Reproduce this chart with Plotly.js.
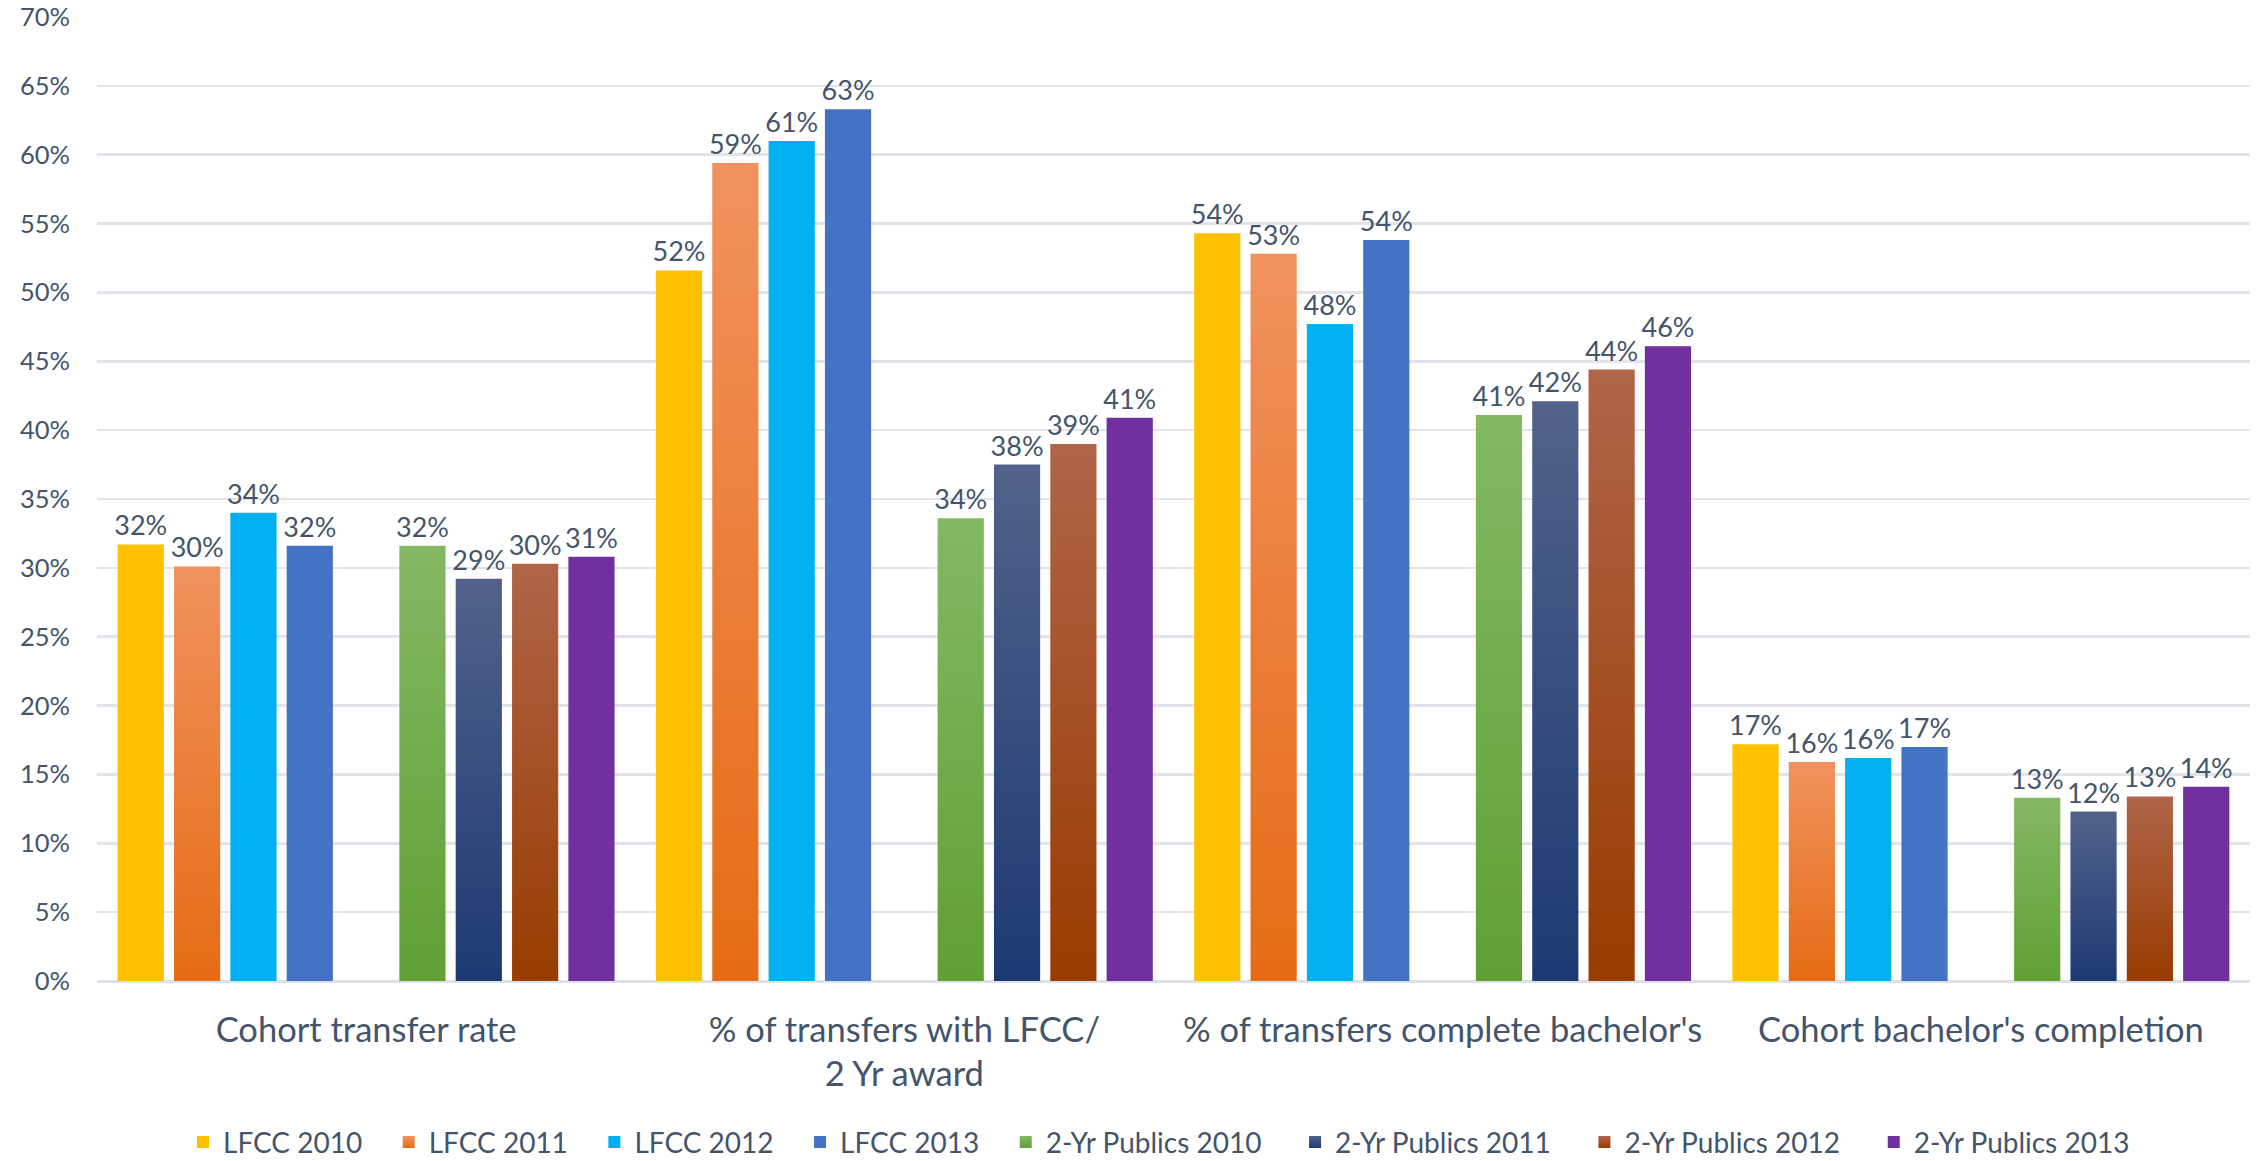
<!DOCTYPE html>
<html>
<head>
<meta charset="utf-8">
<script src="https://cdn.plot.ly/plotly-3.0.1.min.js"></script>
<style>
html,body{margin:0;padding:0;background:#fff;}
#chart{width:2259px;height:1161px;}
</style>
</head>
<body>
<div id="chart"></div>
<script>
var categories = [
  "Cohort transfer rate",
  "% of transfers with LFCC/<br>2 Yr award",
  "% of transfers complete bachelor's",
  "Cohort bachelor's completion"
];
var seriesNames = ["LFCC 2010","LFCC 2011","LFCC 2012","LFCC 2013",
  "2-Yr Publics 2010","2-Yr Publics 2011","2-Yr Publics 2012","2-Yr Publics 2013"];
var lfcc2010 = [31.7, 51.6, 54.3, 17.2];
var lfcc2011 = [30.1, 59.4, 52.8, 15.9];
var lfcc2012 = [34.0, 61.0, 47.7, 16.2];
var lfcc2013 = [31.6, 63.3, 53.8, 17.0];
var pub2010  = [31.6, 33.6, 41.1, 13.3];
var pub2011  = [29.2, 37.5, 42.1, 12.3];
var pub2012  = [30.3, 39.0, 44.4, 13.4];
var pub2013  = [30.8, 40.9, 46.1, 14.1];
var yTicks = [0,5,10,15,20,25,30,35,40,45,50,55,60,65,70];

var colors = ["#FFC000","#EF7E33","#00B0F0","#4472C4","#74AE4A","#2E4477","#A24E1C","#7030A0"];
// vertical gradients (top, bottom) used by Excel-style shaded series
var gradients = {
  "LFCC 2011": ["#F1925E", "#E56C14"],
  "2-Yr Publics 2010": ["#84B864", "#60A033"],
  "2-Yr Publics 2011": ["#52628A", "#1C3A72"],
  "2-Yr Publics 2012": ["#AF6549", "#983C00"]
};
var values = [lfcc2010,lfcc2011,lfcc2012,lfcc2013,pub2010,pub2011,pub2012,pub2013];
var textColor = "#44546A";
var font = "Lato, 'Open Sans', sans-serif";
var padShort = "\u00A0\u00A0\u00A0";
var padLong = "\u00A0\u00A0\u00A0\u00A0";

var traces = [];
function barTrace(i){
  return {
    type:'bar', name: seriesNames[i] + (i < 4 ? padShort : padLong), x: categories, y: values[i],
    meta: seriesNames[i],
    marker:{color: colors[i]},
    text: values[i].map(function(v){return Math.round(v)+'%';}),
    textposition:'outside', constraintext:'none', cliponaxis:false,
    textfont:{family:font, size:27, color:textColor},
    hoverinfo:'name+y'
  };
}
for (var i=0;i<4;i++) traces.push(barTrace(i));
// empty spacer series between the two groups
traces.push({type:'bar', name:'', x:categories, y:categories.map(function(){return null;}),
  showlegend:false, hoverinfo:'skip', marker:{color:'rgba(0,0,0,0)'}});
for (var j=4;j<8;j++) traces.push(barTrace(j));

var layout = {
  width:2259, height:1161,
  paper_bgcolor:'#fff', plot_bgcolor:'#fff',
  margin:{l:97, r:9, t:17, b:180},
  barmode:'group', bargap:0.058, bargroupgap:0.18,
  font:{family:font, color:textColor},
  xaxis:{
    type:'category', showgrid:false, zeroline:false,
    showline:false, ticks:'', ticklabelstandoff:25,
    tickfont:{family:font, size:34.5, color:textColor}
  },
  yaxis:{
    range:[0,70], tickvals:yTicks, ticktext:yTicks.map(function(t){return t+'%';}),
    showgrid:true, gridcolor:'#E1E4EA', gridwidth:2.5,
    zeroline:true, zerolinecolor:'#DDE1E8', zerolinewidth:3,
    showline:false, ticks:'', ticklabelstandoff:26,
    tickfont:{family:font, size:25.5, color:textColor}
  },
  showlegend:true,
  legend:{orientation:'h', xref:'paper', x:0.5, xanchor:'center',
    yref:'container', y:0.016, yanchor:'middle',
    font:{family:font, size:28, color:textColor}, traceorder:'normal',
    itemwidth:30, itemsizing:'constant'}
};

function applyGradients(gd){
  var svg = gd.querySelector('svg.main-svg');
  var defs = svg.querySelector('defs');
  var ns = 'http://www.w3.org/2000/svg';
  var ids = {};
  Object.keys(gradients).forEach(function(name, k){
    var id = 'bargrad' + k;
    var lg = document.createElementNS(ns, 'linearGradient');
    lg.setAttribute('id', id);
    lg.setAttribute('x1','0'); lg.setAttribute('y1','0');
    lg.setAttribute('x2','0'); lg.setAttribute('y2','1');
    [[0, gradients[name][0]],[1, gradients[name][1]]].forEach(function(s){
      var st = document.createElementNS(ns, 'stop');
      st.setAttribute('offset', s[0]);
      st.setAttribute('stop-color', s[1]);
      lg.appendChild(st);
    });
    defs.appendChild(lg);
    ids[name] = id;
  });
  gd.querySelectorAll('.barlayer .trace.bars').forEach(function(g){
    var d = g.__data__; if(!d || !d[0]) return;
    var id = ids[d[0].trace.meta];
    if(!id) return;
    g.querySelectorAll('path').forEach(function(p){ p.style.fill = 'url(#'+id+')'; });
  });
  gd.querySelectorAll('.legend .traces').forEach(function(g){
    var d = g.__data__; if(!d || !d[0]) return;
    var id = ids[d[0].trace.meta];
    if(!id) return;
    g.querySelectorAll('.legendpoints path').forEach(function(p){ p.style.fill = 'url(#'+id+')'; });
  });
}
Plotly.newPlot('chart', traces, layout, {displayModeBar:false, staticPlot:true})
  .then(function(gd){ applyGradients(gd); });
</script>
</body>
</html>
